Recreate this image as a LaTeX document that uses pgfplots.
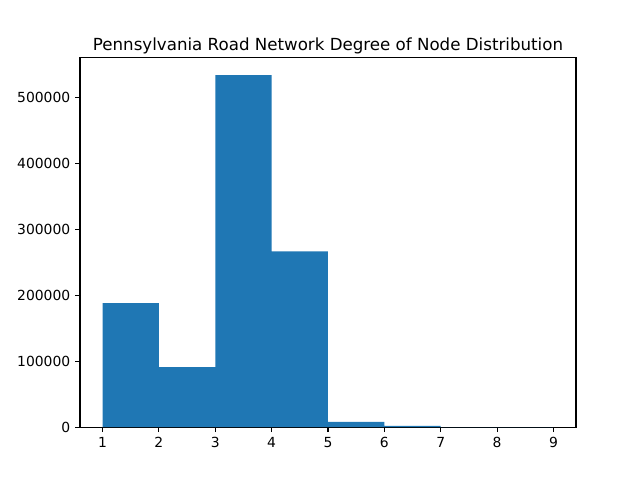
\documentclass[border=0pt]{standalone}
\usepackage{pgfplots}
\pgfplotsset{compat=1.18}
\usepackage{fontspec}
\setmainfont{DejaVu Sans}
\definecolor{mplblue}{HTML}{1F77B4}
\begin{document}
\begin{tikzpicture}
\path[use as bounding box] (0,0) rectangle (460.8pt,345.6pt);
\begin{axis}[
  at={(57.6pt,38.016pt)}, anchor=south west,
  scale only axis, width=357.12pt, height=266.112pt,
  xmin=0.6, xmax=9.4, ymin=0, ymax=560280,
  xtick={1,...,9},
  ytick={0,100000,200000,300000,400000,500000},
  scaled y ticks=false,
  yticklabel style={/pgf/number format/.cd, fixed, 1000 sep={}},
  /pgf/number format/assume math mode=true,
  tick align=outside, tick pos=left,
  major tick length=3.5pt,
  tick style={black, line width=0.8pt},
  axis line style={line width=0.8pt},
  ticklabel style={font=\fontsize{10}{12}\selectfont},
  title={Pennsylvania Road Network Degree of Node Distribution},
  title style={font=\fontsize{12}{14}\selectfont, yshift=-6.8pt},
]
\addplot[ybar interval, fill=mplblue, draw=none] coordinates {
(1,187900) (2,90900) (3,533600) (4,266700) (5,7900) (6,2000) (7,60) (8,10) (9,10)};
\end{axis}
\end{tikzpicture}
\end{document}
